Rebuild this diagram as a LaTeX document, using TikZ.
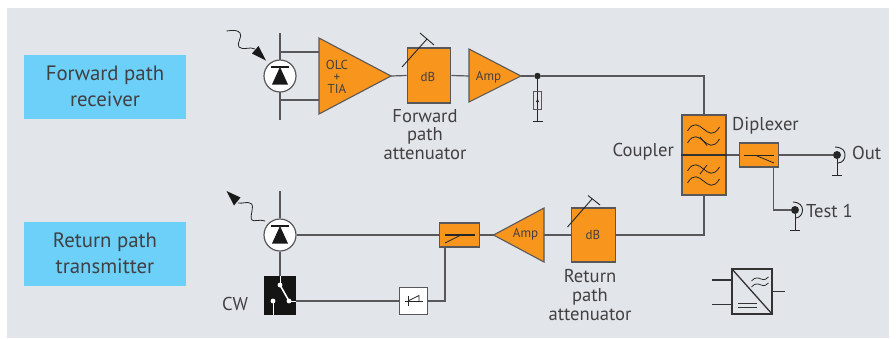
\documentclass[tikz,border=0pt]{standalone}
\usepackage{fontspec}
\setmainfont{PT Sans}
\usetikzlibrary{arrows.meta}
\definecolor{bgc}{HTML}{E2E6EA}
\definecolor{bluec}{HTML}{6CD0F8}
\definecolor{orc}{HTML}{F8951D}
\definecolor{txt}{HTML}{414042}
\definecolor{ln}{HTML}{58585A}
\tikzset{
 wire/.style={draw=ln,line width=1.2pt},
 bluebox/.style={fill=bluec,draw=none,minimum width=162pt,minimum height=64pt,align=center,font=\fontsize{20.8}{25.5}\selectfont,text=txt,inner sep=0pt},
 orbox/.style={fill=orc,draw=ln,line width=1.1pt,inner sep=0pt},
 tri/.style={fill=orc,draw=ln,line width=1.1pt,line join=miter},
 lab/.style={font=\fontsize{18.6}{18.8}\selectfont,text=txt,align=center,inner sep=0pt},
 small/.style={font=\fontsize{13}{13.5}\selectfont,text=txt,inner sep=0pt,align=center},
 pd/.style={circle,fill=white,draw=ln,line width=1.2pt,minimum size=32pt,inner sep=0pt},
 dotn/.style={circle,fill=black!85,draw=none,minimum size=#1,inner sep=0pt},
}
\begin{document}
\begin{tikzpicture}[x=1pt,y=-1pt]
\useasboundingbox (0,0) rectangle (896,338);
\fill[bgc] (7,8) rectangle (889,338);
% labels
\node[bluebox] (fwd) at (105,86.5) {Forward path\\receiver};
\node[bluebox] (ret) at (105,253.5) {Return path\\transmitter};

% ---- forward path wires (drawn first)
\coordinate (pdAtop) at (280,33); \coordinate (pdAbot) at (280,120);
\coordinate (olcU) at (319,52); \coordinate (olcD) at (319,100);
\coordinate (tapU) at (280,52); \coordinate (tapD) at (280,100);
\draw[wire] (pdAtop) -- (pdAbot);
\draw[wire] (tapU) -- (olcU);
\draw[wire] (tapD) -- (olcD);
% photodiode A
\node[pd] (pdA) at (280,76) {};
\fill[black!90] (272,84.5) -- (288,84.5) -- (280,67) -- cycle;
\draw[black!90,line width=1.4pt] (271,67) -- (289,67);
\draw[black!85,line width=.8pt] (226.5,31) .. controls (233,30) and (238,30) .. (240,33) .. controls (243,36) and (236,44) .. (239,47) .. controls (243,51) and (250,46) .. (255,49);
\fill[black!90] (266,60.5) -- (252,53.5) -- (258.5,46) -- cycle;

% OLC amp
\coordinate (olcOut) at (391,76);
\draw[tri] (319,38) -- (391,76) -- (319,114) -- cycle;
\node[small] (olcT) at (337,76.5) {OLC\\[-1.5pt]+\\[-1.5pt]TIA};

% dB forward
\node[orbox,minimum width=43.5pt,minimum height=55pt] (dbA) at (429,75.5) {};
\node[small] (dbAt) at (428,77) {dB};
\draw[wire] (olcOut) -- (dbA.west);
\draw[black!85,line width=.9pt] (402,67) -- (427,39);
\draw[black!85,line width=.9pt] (420,33) -- (434,45);

% Amp forward
\draw[wire] (dbA.east) -- (469,76);
\coordinate (ampAout) at (521,76);
\draw[tri] (469,49) -- (521,76) -- (469,102) -- cycle;
\node[small] (ampAt) at (488.5,77) {Amp};

% Tap + resistor
\node[dotn=6.5pt] (tap) at (537.5,76) {};
\coordinate (gA) at (537.5,121);
\draw[wire] (ampAout) -- (tap);
\draw[black!85,line width=.9pt] (tap) -- (gA);
\draw[black!85,line width=.9pt] (532.5,121) -- (543,121);
\node[draw=ln,line width=.8pt,fill=none,minimum width=8.5pt,minimum height=18pt,inner sep=0pt] (res) at (537.5,100) {};
\fill[black!85] (536,102) -- (539,102) -- (537.5,98.5) -- cycle;

% Coupler
\node[orbox,minimum width=44pt,minimum height=80pt] (cpl) at (704,155) {};
\coordinate (cplTopTurn) at (704,76);
\draw[wire] (tap) -- (cplTopTurn) -- (cpl.north);
\draw[black!80,line width=1.4pt] (cpl.west) -- (cpl.east);
\newcommand{\wv}[2]{\draw[black!85,line width=.8pt] (#1-16,#2+2) .. controls (#1-10,#2-8) and (#1-5,#2-4) .. (#1,#2) .. controls (#1+5,#2+4) and (#1+10,#2+8) .. (#1+16,#2-2);}
\wv{703.5}{129}
\wv{703.5}{141}
\wv{703.5}{169}
\wv{703.5}{181}
\draw[black!85,line width=.8pt] (700,137) -- (707,145.5);
\draw[black!85,line width=.8pt] (700,174) -- (707,165);

% Diplexer
\node[orbox,minimum width=39.5pt,minimum height=24pt] (dip) at (759,155) {};
\draw[wire] (cpl.east) -- (dip.west);
\draw[black!85,line width=1.5pt] (744,155.5) -- (774,155.5);
\draw[black!85,line width=.8pt] (756,155.5) -- (774,163);

% Out
\node[dotn=8pt] (out) at (837,155) {};
\draw[wire] (dip.east) -- (out);
\draw[black!85,line width=.9pt] (835,147) .. controls (843,147.5) and (845,151) .. (845,155) .. controls (845,159) and (843,162.5) .. (838,163);
\coordinate (gOut) at (837,175);
\draw[black!85,line width=.9pt] (out) -- (gOut);
\draw[black!85,line width=.9pt] (832,175) -- (842,175);

% Test 1
\node[dotn=8pt] (tst) at (795,210) {};
\coordinate (tstTurn) at (773.5,210);
\draw[wire] (773.5,167) -- (tstTurn) -- (tst);
\draw[black!85,line width=.9pt] (793,202) .. controls (800,202.5) and (802.5,206) .. (802.5,210) .. controls (802.5,214) and (800,217.5) .. (796,218);
\coordinate (gTst) at (795,230);
\draw[black!85,line width=.9pt] (tst) -- (gTst);
\draw[black!85,line width=.9pt] (790,230) -- (800,230);

% ---- return path
\node[orbox,minimum width=43.5pt,minimum height=54pt] (dbB) at (593.5,235) {};
\node[small] (dbBt) at (593,234.5) {dB};
\coordinate (turnB) at (704,235);
\draw[wire] (cpl.south) -- (turnB) -- (dbB.east);
\draw[black!85,line width=.9pt] (567.5,227) -- (592,199);
\draw[black!85,line width=.9pt] (588,195.5) -- (600,205);

\draw[wire] (dbB.west) -- (544,235);
\draw[tri] (544,208) -- (493.5,235) -- (544,262) -- cycle;
\node[small] (ampBt) at (525.5,234.5) {Amp};
\coordinate (ampBout) at (493.5,235);

\node[orbox,minimum width=39.5pt,minimum height=24pt] (sw) at (459.5,235) {};
\draw[wire] (ampBout) -- (sw.east);
\draw[black!85,line width=1.5pt] (445,235) -- (475,235);
\draw[black!85,line width=.8pt] (445,243) -- (461,235);

\coordinate (pdBtop) at (280,191);
\node[pd] (pdB) at (280,235) {};
\draw[wire] (sw.west) -- (pdB.east);
\draw[wire] (pdBtop) -- (pdB.north);
\fill[black!90] (272,243.5) -- (288,243.5) -- (280,226) -- cycle;
\draw[black!90,line width=1.4pt] (271,226) -- (289,226);
\draw[black!85,line width=.8pt] (265,221) .. controls (258,219) and (254,222) .. (252,220) .. controls (249,217) and (255,206) .. (251,203.5) .. controls (247,201) and (243,204) .. (238,203);
\fill[black!90] (226.5,191) -- (240.5,197.5) -- (234,205.5) -- cycle;

% CW switch
\node[fill=black!92,draw=none,minimum width=32pt,minimum height=39pt,inner sep=0pt] (cw) at (280,295.5) {};
\draw[wire] (pdB.south) -- (cw.north);
\draw[white,line width=1pt] (280,276) -- (280,285);
\draw[white,line width=1.6pt] (280,285) -- (289,301);
\fill[white] (280,285) circle (2.4);
\fill[white] (289,301) circle (2.4);
\draw[white,line width=1pt] (273,301) -- (273,315);
\fill[white] (273,301) circle (2.4);
\draw[white,line width=1pt] (289,301) -- (296,301);

% limiter box
\node[fill=white,draw=ln,line width=1.1pt,minimum width=27.5pt,minimum height=27.5pt,inner sep=0pt] (lim) at (413.5,301) {};
\draw[wire] (cw.east |- lim.west) -- (lim.west);
\coordinate (limTurn) at (445,301);
\draw[wire] (lim.east) -- (limTurn) -- (445,247);
\draw[black!85,line width=.8pt] (405,301) -- (423,301);
\draw[black!85,line width=.8pt] (408,296) -- (408,306);
\draw[black!85,line width=.8pt] (408,301) -- (419,295.5) -- (419,301);

% legend icon
\node[fill=none,draw=black!80,line width=1.4pt,minimum width=40pt,minimum height=45pt,inner sep=0pt] (leg) at (752,291.5) {};
\draw[black!80,line width=1.3pt] (leg.north west) -- (leg.south east);
\coordinate (legA) at (712,280); \coordinate (legB) at (712,304.5); \coordinate (legC) at (785,291.5);
\draw[black!80,line width=1.1pt] (legA) -- (leg.west |- legA);
\draw[black!80,line width=1.1pt] (legB) -- (leg.west |- legB);
\draw[black!80,line width=1.1pt] (leg.east |- legC) -- (legC);
\draw[black!80,line width=.9pt] (738,303) -- (757,303);
\draw[black!80,line width=.9pt] (738,307.5) -- (757,307.5);
\draw[black!80,line width=.8pt] (751.5,281) .. controls (755,276.5) and (759,278) .. (761,279) .. controls (764,280.5) and (767,279) .. (768.5,277);
\draw[black!80,line width=.8pt] (751.5,287) .. controls (755,282.5) and (759,284) .. (761,285) .. controls (764,286.5) and (767,285) .. (768.5,283);

% text
\node[lab] (lFA) at (425,134.5) {Forward\\path\\attenuator};
\node[lab] (lRA) at (590,295) {Return\\path\\attenuator};
\node[lab,anchor=east] (lC) at (674,152) {Coupler};
\node[lab,anchor=west] (lD) at (732,126) {Diplexer};
\node[lab,anchor=west] (lO) at (852,153) {Out};
\node[lab,anchor=west] (lT) at (806,211) {Test 1};
\node[lab,anchor=west] (lCW) at (222,304) {CW};
\end{tikzpicture}
\end{document}
